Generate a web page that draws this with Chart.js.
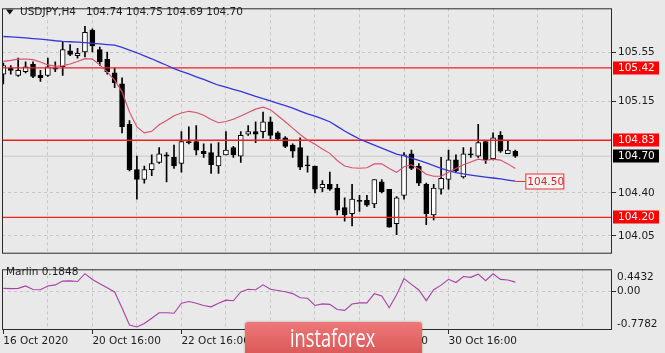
<!DOCTYPE html>
<html lang="en">
<head>
<meta charset="utf-8">
<title>USDJPY,H4</title>
<script src="https://cdn.jsdelivr.net/npm/chart.js@4.4.1/dist/chart.umd.min.js"></script>
<style>
  html, body { margin: 0; padding: 0; background: #e9e9e9; }
  #wrap { position: relative; width: 665px; height: 353px; overflow: hidden; background: #e9e9e9; }
  #main { position: absolute; left: 0; top: 0; }
  #sub { position: absolute; left: 0; top: 262px; }
  .brand {
    position: absolute; left: 245px; top: 322px; width: 177px; height: 34px;
    background: linear-gradient(#ee7878, #d95757);
    border-radius: 3px 3px 0 0;
    box-shadow: 0 0 2px rgba(120, 40, 40, 0.5);
    overflow: hidden;
  }
  .brand span {
    position: absolute; left: 45px; top: -1px;
    color: #fff; font: 26px "Open Sans", sans-serif; line-height: 32px;
    transform: scaleX(0.7); transform-origin: 0 0; white-space: nowrap;
  }
</style>
</head>
<body>
<div id="wrap">
  <canvas id="main" width="665" height="262"></canvas>
  <canvas id="sub" width="665" height="91"></canvas>
  <div class="brand"><span>instaforex</span></div>
</div>
<script>
// H4 bars, 16 Oct 2020 16:00 .. 3 Nov 2020
const opens = [
  105.37, 105.42, 105.36, 105.39, 105.45, 105.36, 105.36, 105.42, 105.43, 105.56,
  105.52, 105.55, 105.73, 105.57, 105.49, 105.38, 105.29, 104.96, 104.59, 104.51,
  104.59, 104.65, 104.71, 104.69, 104.64, 104.82, 104.82, 104.74, 104.73, 104.62,
  104.71, 104.77, 104.70, 104.88, 104.90, 104.90, 104.98, 104.89, 104.85, 104.79,
  104.77, 104.63, 104.62, 104.44, 104.47, 104.44, 104.28, 104.23, 104.34, 104.34,
  104.31, 104.49, 104.43, 104.15, 104.38, 104.72, 104.62, 104.47, 104.22, 104.43,
  104.51, 104.67, 104.53, 104.72, 104.70, 104.82, 104.68, 104.87, 104.72, 104.74
];
const highs = [
  105.46, 105.44, 105.50, 105.47, 105.47, 105.40, 105.50, 105.47, 105.63, 105.61,
  105.58, 105.76, 105.74, 105.59, 105.55, 105.42, 105.34, 104.99, 104.70, 104.62,
  104.71, 104.77, 104.73, 104.79, 104.90, 104.94, 104.95, 104.80, 104.80, 104.81,
  104.90, 104.78, 104.90, 104.95, 104.98, 105.06, 105.02, 104.90, 104.86, 104.80,
  104.85, 104.70, 104.62, 104.50, 104.57, 104.47, 104.36, 104.47, 104.38, 104.38,
  104.51, 104.51, 104.43, 104.37, 104.73, 104.75, 104.64, 104.48, 104.47, 104.69,
  104.75, 104.71, 104.77, 104.77, 104.96, 104.83, 104.89, 104.90, 104.83, 104.75
];
const lows = [
  105.29, 105.37, 105.35, 105.38, 105.34, 105.31, 105.35, 105.39, 105.36, 105.52,
  105.50, 105.51, 105.55, 105.44, 105.37, 105.26, 104.89, 104.58, 104.35, 104.48,
  104.54, 104.64, 104.49, 104.60, 104.57, 104.80, 104.71, 104.69, 104.56, 104.56,
  104.71, 104.69, 104.65, 104.87, 104.81, 104.85, 104.84, 104.83, 104.77, 104.69,
  104.59, 104.57, 104.40, 104.41, 104.42, 104.22, 104.17, 104.13, 104.25, 104.29,
  104.28, 104.40, 104.12, 104.06, 104.35, 104.59, 104.46, 104.14, 104.18, 104.39,
  104.43, 104.57, 104.52, 104.69, 104.69, 104.64, 104.67, 104.73, 104.72, 104.69
];
const closes = [
  105.44, 105.40, 105.40, 105.43, 105.35, 105.34, 105.43, 105.41, 105.57, 105.53,
  105.54, 105.71, 105.60, 105.47, 105.39, 105.30, 104.94, 104.59, 104.51, 104.59,
  104.64, 104.72, 104.70, 104.62, 104.82, 104.81, 104.75, 104.72, 104.63, 104.70,
  104.75, 104.71, 104.87, 104.90, 104.88, 104.98, 104.87, 104.84, 104.78, 104.74,
  104.61, 104.62, 104.43, 104.47, 104.43, 104.26, 104.22, 104.35, 104.33, 104.30,
  104.51, 104.41, 104.12, 104.36, 104.71, 104.60, 104.48, 104.23, 104.44, 104.52,
  104.67, 104.58, 104.72, 104.71, 104.81, 104.67, 104.85, 104.74, 104.75, 104.70
];
// slow moving average (blue)
const maSlow = [
  105.677, 105.674, 105.670, 105.665, 105.660, 105.655, 105.649, 105.642, 105.637, 105.634,
  105.631, 105.626, 105.621, 105.616, 105.611, 105.607, 105.588, 105.566, 105.544, 105.519,
  105.495, 105.468, 105.442, 105.415, 105.392, 105.371, 105.348, 105.326, 105.302, 105.279,
  105.263, 105.246, 105.228, 105.208, 105.189, 105.169, 105.151, 105.131, 105.112, 105.092,
  105.068, 105.045, 105.027, 105.005, 104.981, 104.943, 104.905, 104.872, 104.840, 104.815,
  104.790, 104.765, 104.741, 104.717, 104.703, 104.685, 104.665, 104.645, 104.623, 104.600,
  104.582, 104.566, 104.555, 104.546, 104.537, 104.529, 104.522, 104.514, 104.505, 104.497
];
// fast moving average (red)
const maFast = [
  105.474, 105.482, 105.492, 105.493, 105.488, 105.468, 105.445, 105.435, 105.437, 105.452,
  105.472, 105.496, 105.492, 105.445, 105.388, 105.321, 105.225, 105.061, 104.939, 104.890,
  104.903, 104.956, 104.991, 105.030, 105.053, 105.066, 105.057, 105.034, 105.000, 104.973,
  104.983, 105.001, 105.027, 105.057, 105.084, 105.100, 105.080, 105.030, 104.981, 104.929,
  104.877, 104.832, 104.797, 104.758, 104.723, 104.665, 104.620, 104.605, 104.602, 104.606,
  104.637, 104.637, 104.599, 104.568, 104.614, 104.630, 104.595, 104.552, 104.536, 104.536,
  104.568, 104.599, 104.630, 104.653, 104.676, 104.665, 104.676, 104.668, 104.637, 104.599
];
const marlin = [
  0.060, 0.055, 0.060, 0.109, 0.038, 0.033, 0.109, 0.129, 0.206, 0.211,
  0.197, 0.356, 0.239, 0.151, 0.073, -0.013, -0.337, -0.678, -0.717, -0.647,
  -0.541, -0.432, -0.432, -0.441, -0.239, -0.204, -0.239, -0.284, -0.312, -0.241,
  -0.177, -0.190, -0.013, 0.042, 0.031, 0.131, 0.040, 0.018, -0.009, -0.046,
  -0.130, -0.140, -0.284, -0.252, -0.263, -0.365, -0.383, -0.255, -0.232, -0.232,
  -0.047, -0.091, -0.330, -0.071, 0.255, 0.140, 0.027, -0.188, 0.033, 0.124,
  0.241, 0.177, 0.297, 0.281, 0.345, 0.215, 0.352, 0.241, 0.228, 0.185
];
const levels = [105.42, 104.83, 104.20];
const lastBid = 104.70;
const maSlowLast = 104.50;
const priceTicks = [105.55, 105.15, 104.40, 104.05];
const marlinTicks = [0.4432, 0, -0.7782];
const dateLabels = {
  0: "16 Oct 2020", 12: "20 Oct 16:00", 24: "22 Oct 16:00",
  36: "26 Oct 16:00", 48: "28 Oct 16:00", 60: "30 Oct 16:00"
};
const gridBars = [0, 6, 12, 18, 24, 30, 36, 42, 48, 54, 60, 66, 72, 78];
const symbolTitle = "USDJPY,H4";
const ohlcTitle = "104.74 104.75 104.69 104.70";
const marlinTitle = "Marlin 0.1848";

const X_MIN = -0.18;
const X_MAX = 82.03;
const FONT = { family: "'DejaVu Sans', sans-serif", size: 10.5 };
const FONT_CSS = "10.5px 'DejaVu Sans', sans-serif";
const GRID = "#c6c6c6";
const FRAME = "#2b2b2b";
const TEXT = "#1c1c1c";
const LEVEL_RED = "#f02020";

function points(values) {
  return values.map((v, i) => ({ x: i, y: v }));
}

function flat(value) {
  return [{ x: X_MIN - 1, y: value }, { x: X_MAX + 1, y: value }];
}

function frame(chart) {
  const { ctx, chartArea: a } = chart;
  ctx.save();
  ctx.strokeStyle = FRAME;
  ctx.lineWidth = 1;
  ctx.strokeRect(a.left + 0.5, a.top + 0.5, a.right - a.left - 1, a.bottom - a.top - 1);
  ctx.restore();
}

function priceBox(chart, value, fill) {
  const { ctx } = chart;
  const y = Math.round(chart.scales.y.getPixelForValue(value));
  const x = chart.chartArea.right + 1;
  ctx.fillStyle = fill;
  ctx.fillRect(x, y - 6.5, 46, 13);
  ctx.fillStyle = "#ffffff";
  ctx.textBaseline = "middle";
  ctx.textAlign = "left";
  ctx.fillText(value.toFixed(2), x + 5, y + 0.5);
}

const mainDecor = {
  id: "mainDecor",
  afterDraw(chart) {
    const { ctx } = chart;
    frame(chart);
    ctx.save();
    ctx.font = FONT_CSS;
    // title with the small dropdown triangle
    ctx.fillStyle = "#111";
    ctx.beginPath();
    ctx.moveTo(6, 9.5);
    ctx.lineTo(13.5, 9.5);
    ctx.lineTo(9.75, 14.5);
    ctx.closePath();
    ctx.fill();
    ctx.fillStyle = TEXT;
    ctx.textBaseline = "middle";
    ctx.fillText(symbolTitle, 20, 12);
    ctx.fillText(ohlcTitle, 86, 12);
    // price labels on the axis
    levels.forEach((v) => priceBox(chart, v, "#ff0000"));
    priceBox(chart, lastBid, "#000000");
    // label at the end of the slow average
    const xs = chart.scales.x;
    const ys = chart.scales.y;
    const x0 = xs.getPixelForValue(maSlow.length - 1);
    const y0 = Math.round(ys.getPixelForValue(maSlowLast)) + 0.5;
    ctx.strokeStyle = "#e83030";
    ctx.lineWidth = 1;
    ctx.beginPath();
    ctx.moveTo(x0, y0);
    ctx.lineTo(x0 + 10, y0);
    ctx.stroke();
    ctx.fillStyle = "#f4f4f4";
    ctx.fillRect(x0 + 10.5, y0 - 7.5, 38, 15);
    ctx.strokeRect(x0 + 10.5, y0 - 7.5, 38, 15);
    ctx.fillStyle = "#e02020";
    ctx.fillText(maSlowLast.toFixed(2), x0 + 12, y0 + 0.5);
    ctx.restore();
  }
};

const subDecor = {
  id: "subDecor",
  afterDraw(chart) {
    const { ctx } = chart;
    frame(chart);
    ctx.save();
    ctx.font = FONT_CSS;
    ctx.fillStyle = TEXT;
    ctx.textBaseline = "middle";
    ctx.fillText(marlinTitle, 6, 10);
    const ys = chart.scales.y;
    const x = chart.chartArea.right + 5;
    ctx.fillText(marlinTicks[0].toFixed(4), x, ys.getPixelForValue(marlinTicks[0]) + 8);
    ctx.fillText(marlinTicks[2].toFixed(4), x, ys.getPixelForValue(marlinTicks[2]) - 6);
    ctx.restore();
  }
};

const mainChart = new Chart(document.getElementById("main"), {
  type: "bar",
  data: {
    datasets: [
      { type: "line", data: points(maFast), borderColor: "#d8506a", borderWidth: 1.1, pointRadius: 0 },
      { type: "line", data: points(maSlow), borderColor: "#3535dc", borderWidth: 1.3, pointRadius: 0 },
      ...levels.map((v) => ({ type: "line", data: flat(v), borderColor: LEVEL_RED, borderWidth: 1.3, pointRadius: 0 })),
      {
        type: "bar", grouped: false, data: opens.map((o, i) => ({ x: i, y: [o, closes[i]] })),
        barThickness: 5, minBarLength: 1, borderWidth: 1, borderSkipped: false, borderColor: "#000",
        backgroundColor: opens.map((o, i) => (closes[i] >= o ? "#ffffff" : "#000000"))
      },
      {
        type: "bar", grouped: false, data: lows.map((l, i) => ({ x: i, y: [l, highs[i]] })),
        barThickness: 1, backgroundColor: "#000"
      },
      { type: "line", data: flat(lastBid), borderColor: "#c9c9c9", borderWidth: 1, pointRadius: 0 }
    ]
  },
  options: {
    responsive: false,
    animation: false,
    events: [],
    layout: { padding: { left: 2, top: 2, bottom: 2, right: 0 } },
    plugins: { legend: { display: false }, tooltip: { enabled: false } },
    scales: {
      x: {
        type: "linear", min: X_MIN, max: X_MAX, offset: false,
        afterBuildTicks: (s) => { s.ticks = gridBars.slice(1).map((v) => ({ value: v })); },
        afterFit: (s) => { s.height = 0; },
        ticks: { display: false },
        grid: { color: GRID, drawTicks: false, offset: false },
        border: { display: false, dash: [3, 3] }
      },
      y: {
        position: "right", min: 103.904, max: 105.907,
        afterBuildTicks: (s) => { s.ticks = priceTicks.map((v) => ({ value: v })); },
        afterFit: (s) => { s.width = 53; },
        ticks: { font: FONT, color: TEXT, padding: 2, callback: (v) => Number(v).toFixed(2) },
        grid: { color: GRID, tickColor: FRAME, tickLength: 4, tickBorderDash: [] },
        border: { display: false, dash: [3, 3] }
      }
    }
  },
  plugins: [mainDecor]
});

const subChart = new Chart(document.getElementById("sub"), {
  type: "line",
  data: {
    datasets: [
      { data: points(marlin), borderColor: "#a840a8", borderWidth: 1.1, pointRadius: 0 }
    ]
  },
  options: {
    responsive: false,
    animation: false,
    events: [],
    layout: { padding: { left: 2, top: 1, bottom: 0, right: 0 } },
    plugins: { legend: { display: false }, tooltip: { enabled: false } },
    scales: {
      x: {
        type: "linear", min: X_MIN, max: X_MAX,
        afterBuildTicks: (s) => { s.ticks = gridBars.map((v) => ({ value: v })); },
        afterFit: (s) => { s.height = 23; },
        ticks: {
          font: FONT, color: TEXT, align: "start", autoSkip: false, maxRotation: 0, padding: 1,
          callback: (v) => dateLabels[v] || ""
        },
        grid: {
          color: (c) => (c.tick && c.tick.value === 0 ? "rgba(0,0,0,0)" : GRID),
          tickColor: (c) => (c.tick && dateLabels[c.tick.value] ? FRAME : "rgba(0,0,0,0)"),
          tickLength: 4, tickBorderDash: []
        },
        border: { display: false, dash: [3, 3] }
      },
      y: {
        position: "right", min: marlinTicks[2], max: marlinTicks[0],
        afterBuildTicks: (s) => { s.ticks = [{ value: marlinTicks[1] }]; },
        afterFit: (s) => { s.width = 53; },
        ticks: { font: FONT, color: TEXT, padding: 1, callback: (v) => Number(v).toFixed(2) },
        grid: { color: GRID, tickColor: FRAME, tickLength: 4, tickBorderDash: [] },
        border: { display: false, dash: [3, 3] }
      }
    }
  },
  plugins: [subDecor]
});
</script>
</body>
</html>
